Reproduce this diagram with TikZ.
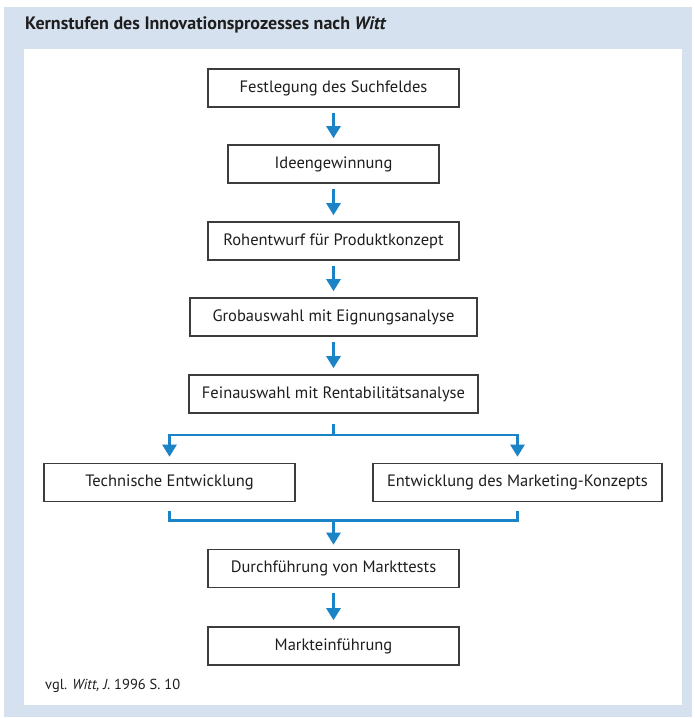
\documentclass[tikz,border=0pt]{standalone}
\usepackage{fontspec}
\setmainfont{PT Sans}
\usetikzlibrary{arrows.meta}
\definecolor{panelblue}{HTML}{D6E1F0}
\definecolor{flowblue}{HTML}{1A84C7}
\definecolor{boxgray}{HTML}{3C3C3C}
\definecolor{ink}{HTML}{1E1E1E}
\begin{document}
\begin{tikzpicture}[x=1pt,y=-1pt,
  stage/.style={draw=boxgray, line width=1.6pt, fill=white, minimum height=38pt,
    inner sep=0pt, text=ink, font=\fontsize{16.5}{19}\selectfont},
  flowline/.style={draw=flowblue, line width=2.6pt},
  flowarrow/.style={flowline, -{Triangle[width=14pt,length=12pt]}, shorten >=6pt, shorten <=5pt}]
  \useasboundingbox (0,0) rectangle (695,718);
  % framed panel
  \fill[panelblue] (4,7) rectangle (692,717);
  \fill[white] (24,49) rectangle (682,705);
  \node[anchor=west, inner sep=0pt, text=ink, font=\fontsize{18}{20}\selectfont\bfseries] (title) at (25,24.5)
    {Kernstufen des Innovationsprozesses nach \textit{Witt}};
  % process stages
  \node[stage, minimum width=251pt] (s1) at (333.5,88) {Festlegung des Suchfeldes};
  \node[stage, minimum width=211pt] (s2) at (333.5,164) {Ideengewinnung};
  \node[stage, minimum width=251pt] (s3) at (333.5,241) {Rohentwurf für Produktkonzept};
  \node[stage, minimum width=287pt] (s4) at (333.5,317) {Grobauswahl mit Eignungsanalyse};
  \node[stage, minimum width=289pt] (s5) at (333.5,394) {Feinauswahl mit Rentabilitätsanalyse};
  \node[stage, minimum width=251pt] (tech) at (169.5,482.5) {Technische Entwicklung};
  \node[stage, minimum width=289pt] (mkt) at (517.5,482.5) {Entwicklung des Marketing-Konzepts};
  \node[stage, minimum width=251pt] (s7) at (333.5,568.5) {Durchführung von Markttests};
  \node[stage, minimum width=251pt] (s8) at (333.5,646) {Markteinführung};
  \node[anchor=west, inner sep=0pt, text=ink, font=\fontsize{14.5}{17}\selectfont] (src) at (45,686)
    {vgl. \textit{Witt, J.} 1996 S. 10};
  % sequential arrows
  \draw[flowarrow] (s1) -- (s2);
  \draw[flowarrow] (s2) -- (s3);
  \draw[flowarrow] (s3) -- (s4);
  \draw[flowarrow] (s4) -- (s5);
  % split into the two parallel developments
  \coordinate (split) at ([yshift=-21pt]s5.south);
  \draw[flowline] ([yshift=-10pt]s5.south) -- (split);
  \draw[flowarrow, shorten <=0pt] (split) -| (tech.north);
  \draw[flowarrow, shorten <=0pt] (split) -| (mkt.north);
  % join back into market tests
  \coordinate (join) at ([yshift=28pt]s7.north);
  \draw[flowline] ([yshift=-9pt]tech.south) |- (join) -| ([yshift=-9pt]mkt.south);
  \draw[flowarrow, shorten <=0pt, shorten >=4pt] (join) -- (s7);
  \draw[flowarrow] (s7) -- (s8);
\end{tikzpicture}
\end{document}
